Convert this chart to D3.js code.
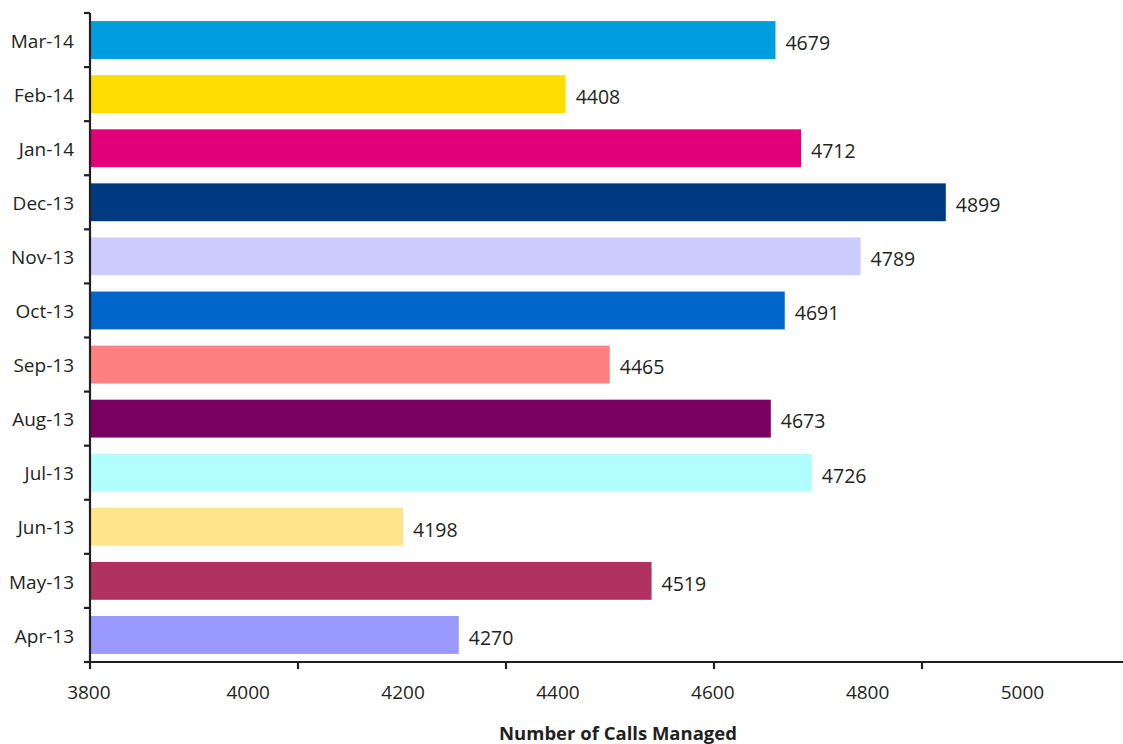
<!DOCTYPE html>
<html><head><meta charset="utf-8">
<script src="https://cdn.jsdelivr.net/npm/d3@7"></script>
<style>
html,body{margin:0;padding:0;background:#fff;}
svg{display:block;font-family:"Open Sans",sans-serif;}
</style></head>
<body><svg id="chart" width="1123" height="744"></svg>
<script>
const categories = ["Apr-13","May-13","Jun-13","Jul-13","Aug-13","Sep-13","Oct-13","Nov-13","Dec-13","Jan-14","Feb-14","Mar-14"];
const values = [4270,4519,4198,4726,4673,4465,4691,4789,4899,4712,4408,4679];
const colors = ["#9999ff","#b0325f","#ffe48c","#b2ffff","#7a0062","#ff8080","#0066cc","#ccccff","#003a80","#e2007a","#ffdd00","#009ddf"];
const tickValues = [3800,4000,4200,4400,4600,4800,5000];
const xTitle = "Number of Calls Managed";

(function(){
const svg = d3.select("#chart");
const ink = "#231f20";
const mLeft = 91, mRight = 1120, mTop = 13, mBottom = 662;

const x = d3.scaleLinear().domain([3795, 5124]).range([mLeft, mRight]);
const y = d3.scaleBand().domain(categories.slice().reverse()).range([mTop, mBottom]).paddingInner(0.3).paddingOuter(0.15);

// bars
svg.append("g").selectAll("rect").data(categories).join("rect")
  .attr("x", x.range()[0])
  .attr("y", d => y(d))
  .attr("height", y.bandwidth())
  .attr("width", (d,i) => x(values[i]) - x.range()[0])
  .attr("fill", (d,i) => colors[i]);

// value labels
svg.append("g").selectAll("text").data(categories).join("text")
  .attr("x", (d,i) => x(values[i]) + 10)
  .attr("y", d => y(d) + y.bandwidth()/2 + 3)
  .attr("dy", "0.35em")
  .attr("font-size", 19.5)
  .attr("fill", ink)
  .text((d,i) => values[i]);

// y axis
const band = (mBottom - mTop) / categories.length;
const yAxis = svg.append("g");
yAxis.append("line").attr("x1", 90).attr("x2", 90).attr("y1", mTop).attr("y2", mBottom+1)
  .attr("stroke", ink).attr("stroke-width", 2.2);
yAxis.selectAll("line.tk").data(d3.range(categories.length + 1)).join("line").attr("class","tk")
  .attr("x1", 84).attr("x2", 90)
  .attr("y1", i => mTop + i*band).attr("y2", i => mTop + i*band)
  .attr("stroke", ink).attr("stroke-width", 2.2);
yAxis.selectAll("text").data(categories).join("text")
  .attr("x", 74)
  .attr("y", d => y(d) + y.bandwidth()/2 + 1)
  .attr("dy", "0.35em")
  .attr("text-anchor", "end")
  .attr("font-size", 19)
  .attr("fill", ink)
  .text(d => d);

// x axis
const xAxis = svg.append("g");
xAxis.append("line").attr("x1", 84).attr("x2", 1123).attr("y1", mBottom).attr("y2", mBottom)
  .attr("stroke", ink).attr("stroke-width", 2.2);
const frac = d3.scaleLinear().domain([0,5]).range([90, 1130]);
xAxis.selectAll("line.tk").data(d3.range(6)).join("line").attr("class","tk")
  .attr("x1", i => frac(i)).attr("x2", i => frac(i))
  .attr("y1", mBottom).attr("y2", mBottom + 7)
  .attr("stroke", ink).attr("stroke-width", 2.2);
xAxis.selectAll("text").data(tickValues).join("text")
  .attr("x", d => d === 3800 ? x(d) - 6 : x(d) - 1.5)
  .attr("y", 699)
  .attr("text-anchor", "middle")
  .attr("font-size", 19)
  .attr("fill", ink)
  .text(d => d);

svg.append("text")
  .attr("x", 618).attr("y", 740)
  .attr("text-anchor", "middle")
  .attr("font-size", 18.5)
  .attr("font-weight", "bold")
  .attr("fill", ink)
  .text(xTitle);
})();
</script></body></html>
